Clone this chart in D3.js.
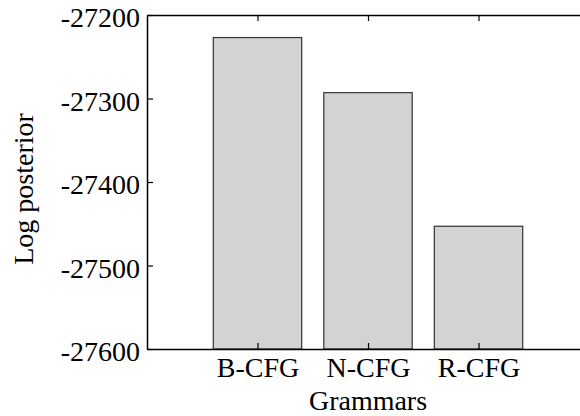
<!DOCTYPE html>
<html>
<head>
<meta charset="utf-8">
<script src="https://cdn.jsdelivr.net/npm/d3@7"></script>
<style>
  body { margin: 0; background: #fff; }
  svg { display: block; }
  text { font-family: "Liberation Serif", "Times New Roman", serif; }
</style>
</head>
<body>
<div></div>
<script>
// datos del grafico
var grammars = ['B-CFG', 'N-CFG', 'R-CFG']
var logPosterior = [-27227, -27293, -27453]
var yTicks = [-27600, -27500, -27400, -27300, -27200]

var w = 580
var h = 416
var plotLeft = 147, plotTop = 15, plotBottom = 349, plotRight = 589
var fs = 28

var svg = d3.select('div')
    .append('svg')
    .attr('width', w)
    .attr('height', h);

// escalas (x lineal como en matlab: categorias en 1,2,3)
var x = d3.scaleLinear().domain([0, 4]).range([plotLeft, plotRight])
var y = d3.scaleLinear().domain([-27600, -27200]).range([plotBottom, plotTop])
var barW = (x(1) - x(0)) * 0.8

// barras
svg.selectAll('rect.bar')
    .data(logPosterior)
    .enter()
    .append('rect')
    .attr('class', 'bar')
    .attr('x', (d, i) => x(i + 1) - barW / 2)
    .attr('y', d => y(d))
    .attr('width', barW)
    .attr('height', d => plotBottom - y(d))
    .attr('fill', '#d3d3d3')
    .attr('stroke', '#333')
    .attr('stroke-width', 1.2);

// eje y con ticks hacia dentro
var yAxis = svg.append('g')
    .attr('transform', `translate(${plotLeft},0)`)
    .call(d3.axisLeft(y).tickValues(yTicks).tickSizeInner(-6).tickSizeOuter(0).tickPadding(7).tickFormat(d => String(d)))
yAxis.select('.domain').attr('stroke', '#000').attr('stroke-width', 1.5)
yAxis.selectAll('.tick line').attr('stroke', '#000').attr('stroke-width', 1.2)
yAxis.selectAll('.tick text')
    .attr('font-size', fs)
    .attr('fill', '#000')
    .attr('font-family', '"Liberation Serif", serif')
    .attr('dy', '0.42em')

// eje x abajo
var xAxis = svg.append('g')
    .attr('transform', `translate(0,${plotBottom})`)
    .call(d3.axisBottom(x).tickValues([1, 2, 3]).tickSizeInner(-6).tickSizeOuter(0).tickPadding(8).tickFormat((d, i) => grammars[i]))
xAxis.select('.domain').attr('stroke', '#000').attr('stroke-width', 1.5)
xAxis.selectAll('.tick line').attr('stroke', '#000').attr('stroke-width', 1.2)
xAxis.selectAll('.tick text')
    .attr('font-size', fs)
    .attr('fill', '#000')
    .attr('font-family', '"Liberation Serif", serif')

// eje superior (sin etiquetas)
var topAxis = svg.append('g')
    .attr('transform', `translate(0,${plotTop})`)
    .call(d3.axisTop(x).tickValues([1, 2, 3]).tickSizeInner(-6).tickSizeOuter(0).tickFormat(''))
topAxis.select('.domain').attr('stroke', '#000').attr('stroke-width', 1.5)
topAxis.selectAll('.tick line').attr('stroke', '#000').attr('stroke-width', 1.2)

// titulos de ejes
svg.append('text')
    .attr('x', x(2))
    .attr('y', 410)
    .attr('text-anchor', 'middle')
    .attr('font-size', fs)
    .text('Grammars');

svg.append('text')
    .attr('transform', 'translate(33,189) rotate(-90)')
    .attr('text-anchor', 'middle')
    .attr('font-size', fs)
    .text('Log posterior');
</script>
</body>
</html>
